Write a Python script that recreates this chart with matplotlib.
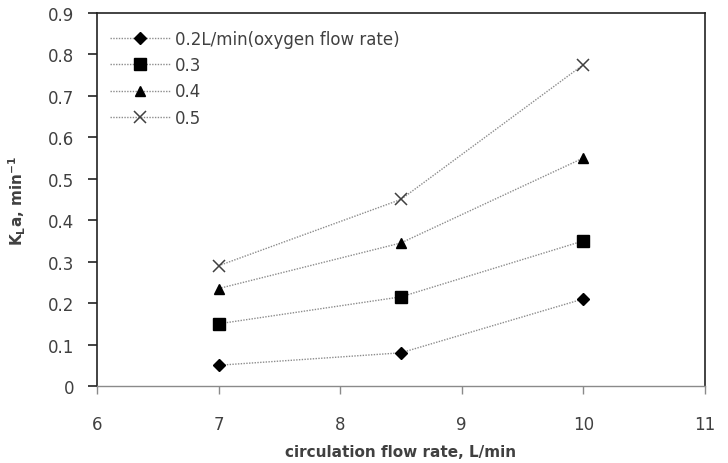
import matplotlib.pyplot as plt

plt.rcParams['font.family'] = ['DejaVu Sans']
plt.rcParams['mathtext.fontset'] = 'dejavusans'

# circulation flow rate, L/min
FLOW = [7, 8.5, 10]
# KLa (1/min) per oxygen flow rate
KLA_02 = [0.05, 0.08, 0.21]
KLA_03 = [0.15, 0.215, 0.35]
KLA_04 = [0.235, 0.345, 0.55]
KLA_05 = [0.29, 0.45, 0.775]
LABELS = ['0.2L/min(oxygen flow rate)', '0.3', '0.4', '0.5']

TEXT = '#404040'


def main():
    fig = plt.figure(figsize=(7.28, 4.64), dpi=100)
    ax = fig.add_axes([0.1332, 0.166, 0.835, 0.804])

    series = [KLA_02, KLA_03, KLA_04, KLA_05]
    styles = [dict(marker='D', markersize=6.5, color='black'),
              dict(marker='s', markersize=8, color='black'),
              dict(marker='^', markersize=7.5, color='black'),
              dict(marker='x', markersize=9, color='#404040',
                   markeredgewidth=1.1)]
    for vals, label, st in zip(series, LABELS, styles):
        ax.plot(FLOW, vals, linestyle=(0, (1, 1)), linewidth=1.0,
                color='#8c8c8c', marker=st['marker'],
                markersize=st['markersize'],
                markerfacecolor=st['color'], markeredgecolor=st['color'],
                markeredgewidth=st.get('markeredgewidth', 1.0),
                label=label)

    ax.set_xlim(6, 11)
    ax.set_ylim(0, 0.9)
    ax.set_xticks(range(6, 12))
    ax.set_yticks([i / 10 for i in range(10)])
    ax.set_yticklabels(['0'] + ['%.1f' % (i / 10) for i in range(1, 10)])

    for side in ('top', 'right', 'left'):
        ax.spines[side].set_color('#222222')
        ax.spines[side].set_linewidth(1.2)
    ax.spines['bottom'].set_color('#8a8a8a')
    ax.spines['bottom'].set_linewidth(1.0)

    ax.tick_params(axis='y', direction='out', length=6.5, width=1.2,
                   color='#222222', labelsize=12, labelcolor=TEXT, pad=10)
    ax.tick_params(axis='x', direction='out', length=6, width=1.0,
                   color='#8a8a8a', labelsize=12, labelcolor=TEXT, pad=15)

    ax.set_xlabel('circulation flow rate, L/min', fontsize=11,
                  fontweight='bold', color=TEXT)
    ax.xaxis.set_label_coords(0.5, -0.155)
    ax.set_ylabel(r'K$_\mathbf{L}$a, min$^\mathbf{-1}$', fontsize=11,
                  fontweight='bold', color=TEXT)
    ax.yaxis.set_label_coords(-0.113, 0.5)

    ax.legend(loc='upper left', bbox_to_anchor=(0.021, 0.955), frameon=False,
              fontsize=12, handlelength=3.6, handletextpad=0.3,
              labelspacing=0.5, borderaxespad=0, borderpad=0,
              labelcolor=TEXT)

    fig.savefig('out.png', dpi=100)


if __name__ == '__main__':
    main()
